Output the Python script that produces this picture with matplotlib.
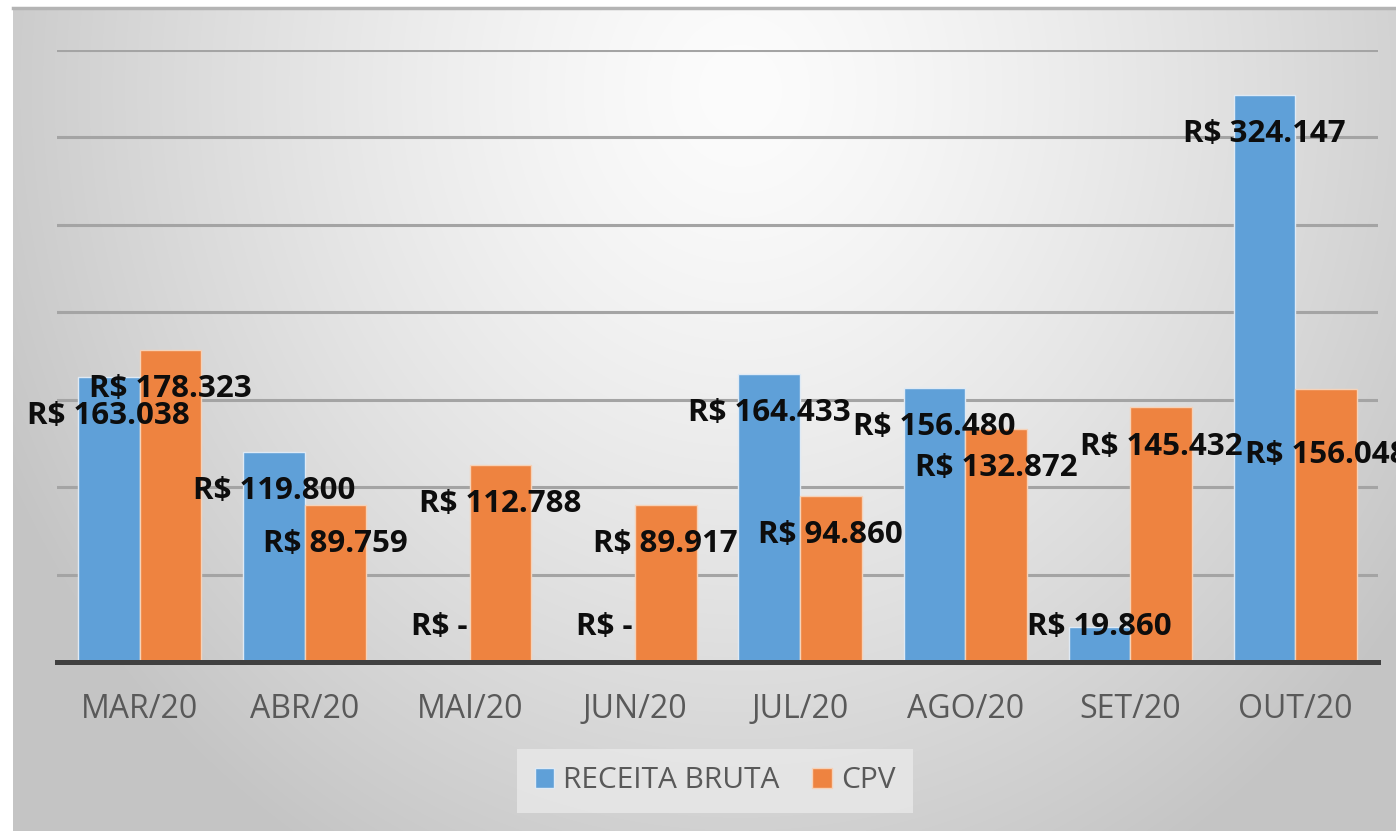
import numpy as np
import matplotlib
matplotlib.use("Agg")
import matplotlib.pyplot as plt

categories = ["MAR/20", "ABR/20", "MAI/20", "JUN/20", "JUL/20", "AGO/20", "SET/20", "OUT/20"]
receita_bruta = [163038, 119800, 0, 0, 164433, 156480, 19860, 324147]
cpv = [178323, 89759, 112788, 89917, 94860, 132872, 145432, 156048]
series_names = ["RECEITA BRUTA", "CPV"]

W, H = 1396, 831
fig = plt.figure(figsize=(W / 100, H / 100), dpi=100)
fig.patch.set_facecolor("white")

# background gradient (chart area)
bx0, by0 = 13, 7
bg = fig.add_axes([bx0 / W, 0, 1 - bx0 / W, (H - by0) / H])
yy, xx = np.mgrid[by0:H, bx0:W]
cx, cy, rx, ry = 740.0, 90.0, 820.0, 900.0
d = np.sqrt(((xx - cx) / rx) ** 2 + ((yy - cy) / ry) ** 2)
val = 252 - (252 - 196) * np.clip(d, 0, 1) ** 1.35
img = np.dstack([val, val, val]) / 255.0
bg.imshow(img, aspect="auto", extent=[0, 1, 0, 1], interpolation="bilinear")
bg.set_xlim(0, 1); bg.set_ylim(0, 1)
bg.axis("off")
bg.plot([0, 1], [0.999, 0.999], color="#b4b4b4", lw=2.5, transform=bg.transAxes, clip_on=False)

ax = fig.add_axes([57 / W, (H - 662) / H, 1321 / W, (662 - 49.5) / H])
ax.patch.set_alpha(0)
x = np.arange(len(categories))
bw = 0.373
blue = "#5FA0D8"
orange = "#EE8340"
b1 = ax.bar(x - bw / 2, receita_bruta, bw, color=blue, edgecolor="#dfeaf5", linewidth=1.0, zorder=3, label=series_names[0])
b2 = ax.bar(x + bw / 2, cpv, bw, color=orange, edgecolor="#f6d2b8", linewidth=1.0, zorder=3, label=series_names[1])

ax.set_xlim(-0.5, len(categories) - 0.5)
ax.set_ylim(0, 350000)
ax.set_yticks(np.arange(0, 350001, 50000))
ax.yaxis.grid(True, color="#a4a4a4", lw=2.2, zorder=1)
ax.tick_params(axis="y", length=0, labelleft=False)
for s in ["left", "right", "top"]:
    ax.spines[s].set_visible(False)
ax.spines["bottom"].set_color("#404040")
ax.spines["bottom"].set_linewidth(3.6)
ax.spines["bottom"].set_zorder(4)
ax.set_xticks(x)
ax.set_xticklabels(categories, fontfamily="Open Sans", fontsize=23, color="#595959")
ax.tick_params(axis="x", length=0, pad=22)

def fmt(v):
    if v == 0:
        return "R$ -"
    return "R$ " + f"{v:,}".replace(",", ".")

inset = 22300
floor = 20000
nudge_cpv = [0, 0, 0, 0, 0, 0, 0, -15400]
for i in range(len(categories)):
    for v, off, nd in ((receita_bruta[i], -bw / 2, 0), (cpv[i], bw / 2, nudge_cpv[i])):
        ly = max(v - inset, floor) + nd
        ax.text(i + off, ly, fmt(v), ha="center", va="center", fontfamily="Open Sans",
                fontweight="bold", fontsize=22.5, color="#0d0d0d", zorder=5, clip_on=False)

leg = fig.legend(handles=[b1, b2], labels=series_names, loc="center",
                 bbox_to_anchor=(715 / W, (H - 781) / H), ncol=2, frameon=True,
                 prop={"family": "Open Sans", "size": 21.5}, handlelength=0.65, handleheight=0.65,
                 handletextpad=0.3, columnspacing=1.1, borderpad=0.6, borderaxespad=0.0,
                 fancybox=False)
leg.get_frame().set_facecolor("#e9e9e9")
leg.get_frame().set_edgecolor("none")
leg.get_frame().set_alpha(0.8)
for t in leg.get_texts():
    t.set_color("#595959")

fig.savefig("out.png", dpi=100)
